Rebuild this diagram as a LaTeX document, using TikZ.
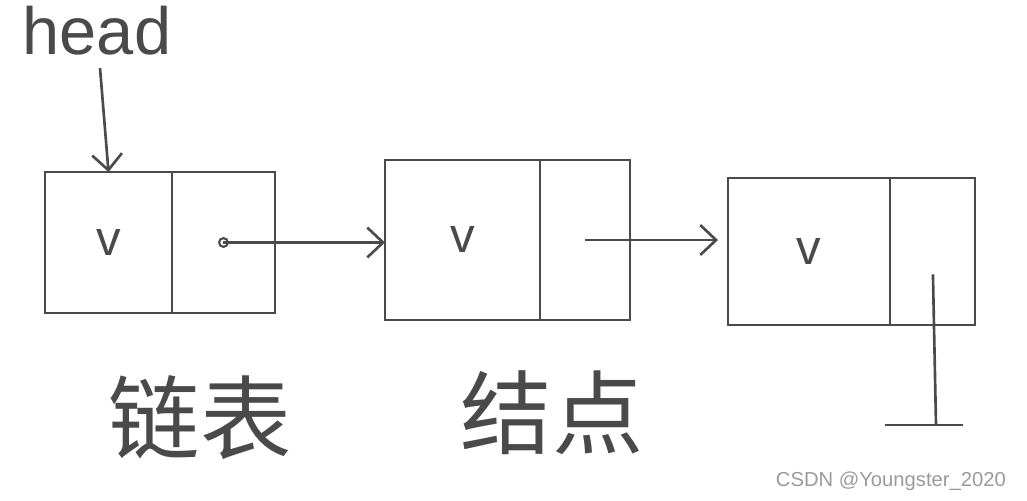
\documentclass[tikz,border=0pt]{standalone}
\usepackage{fontspec}
\setsansfont{Liberation Sans}
\newfontfamily\cjk{Noto Sans CJK SC}
\usetikzlibrary{arrows.meta, positioning}
\definecolor{ink}{HTML}{4A4A4A}
\definecolor{mark}{HTML}{9A9A9A}

\begin{document}
\begin{tikzpicture}[
  x=0.02cm, y=-0.02cm,
  font=\sffamily,
  cell/.style={rectangle, draw=ink, line width=1.5pt, outer sep=0pt, inner sep=0pt,
               font=\sffamily\fontsize{28}{28}\selectfont, text=ink},
  arr/.style={-{Straight Barb[length=9pt, width=17pt]}, draw=ink, line width=1.5pt},
  lbl/.style={text=ink, font=\cjk\fontsize{52}{52}\selectfont},
]
  \useasboundingbox (0,0) rectangle (1027,500);

  % list nodes: value cell + pointer cell
  \node[cell, minimum width=2.54cm, minimum height=2.82cm] (d1) at (108.5,242.5) {v};
  \node[cell, minimum width=2.06cm, minimum height=2.82cm, right=0pt of d1] (p1) {};
  \node[cell, minimum width=3.1cm, minimum height=3.2cm] (d2) at (462.5,240) {v};
  \node[cell, minimum width=1.8cm, minimum height=3.2cm, right=0pt of d2] (p2) {};
  \node[cell, minimum width=3.24cm, minimum height=2.94cm] (d3) at (809,251.5) {v};
  \node[cell, minimum width=1.7cm, minimum height=2.94cm, right=0pt of d3] (p3) {};

  \node[text=ink, inner sep=2pt, font=\sffamily\fontsize{38}{38}\selectfont] (head) at (97,31) {head};
  \draw[arr, shorten <=5pt] (head) -- (d1.north);

  \draw[ink, line width=1.2pt] (p1.center) circle (2.5pt);
  \draw[arr] (p1.center) -- (p1.center -| d2.west);
  \draw[arr, shorten >=0.2cm] (p2.center) -- (p2.center -| d3.west);

  % null
  \coordinate (nil) at (936,425);
  \draw[ink, line width=1.5pt, shorten <=13pt] (p3.center) -- (nil);
  \draw[ink, line width=1.5pt] ([xshift=-1.02cm]nil) -- ([xshift=0.54cm]nil);

  \node[lbl] (list) at (200,418) {链表};
  \node[lbl] (elem) at (552,413) {结点};

  \node[anchor=east, text=mark, font=\sffamily\fontsize{11.5}{12}\selectfont] (credit) at (1012,481) {CSDN @Youngster\_2020};
\end{tikzpicture}
\end{document}
